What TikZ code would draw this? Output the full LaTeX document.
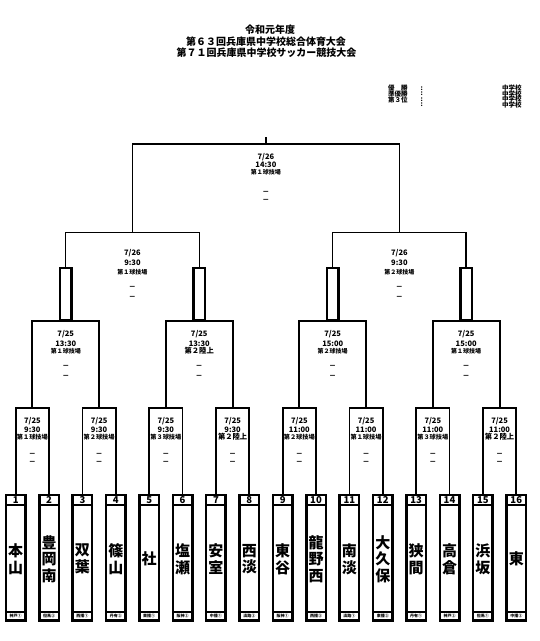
\documentclass[tikz,border=0pt]{standalone}
\usepackage{fontspec}
\setmainfont{Noto Sans CJK JP}
\usetikzlibrary{calc}
\tikzset{
  team/.style={draw, line width=2.5pt, minimum width=19.5pt, minimum height=125.3pt, inner sep=0pt, outer sep=0pt},
  tname/.style={font=\fontsize{15}{16.7}\selectfont\bfseries, align=center, inner sep=0pt},
  numlab/.style={font=\fontsize{9.5}{9.5}\selectfont\bfseries, inner sep=0pt},
  reglab/.style={font=\fontsize{4}{4}\selectfont\bfseries, inner sep=0pt},
  divider/.style={line width=1.6pt},
  r1line/.style={line width=1.8pt},
  qfline/.style={line width=2pt},
  winrect/.style={draw, line width=2.7pt, minimum width=11.7pt, minimum height=52.7pt, inner sep=0pt, outer sep=0pt},
  bracket/.style={line width=1.4pt},
  txt/.style={font=\fontsize{7.5}{7.5}\selectfont\bfseries, inner sep=0pt},
  dashmark/.style={font=\fontsize{7}{7}\selectfont\bfseries, inner sep=0pt},
  title/.style={font=\fontsize{10}{10}\selectfont\bfseries, inner sep=0pt},
  result/.style={font=\fontsize{6.5}{6.5}\selectfont\bfseries, inner sep=0pt}
}
\begin{document}
\begin{tikzpicture}[x=1pt,y=-1pt]
\fill[white] (0,0) rectangle (540,641);
\useasboundingbox (0,0) rectangle (540,641);

% title
\node[title] (t0) at (270,30) {令和元年度};
\node[title] (ta) at (266,41.7) {第６３回兵庫県中学校総合体育大会};
\node[title] (tb) at (266.5,52.7) {第７１回兵庫県中学校サッカー競技大会};

% results
\node[result, anchor=west] (p1) at (388,88.3) {優　勝};
\node[result, anchor=west] (p2) at (388,94) {準優勝};
\node[result, anchor=west] (p3) at (388,99.5) {第３位};
\foreach \yy/\nn in {88.3/1,94/2,99.5/3,105.1/4}{
  \node[result] (c\nn) at (421.7,\yy) {:};
  \node[result, anchor=east] (s\nn) at (521.7,\yy) {中学校};
}

% teams
\foreach \i/\nm/\rg in {1/{本\\山}/神戸①, 2/{豊\\岡\\南}/但馬②, 3/{双\\葉}/西播①, 4/{篠\\山}/丹有②,
  5/{社}/東播①, 6/{塩\\瀬}/阪神②, 7/{安\\室}/中播①, 8/{西\\淡}/淡路②,
  9/{東\\谷}/阪神①, 10/{龍\\野\\西}/西播②, 11/{南\\淡}/淡路①, 12/{大\\久\\保}/東播②,
  13/{狭\\間}/丹有①, 14/{高\\倉}/神戸②, 15/{浜\\坂}/但馬①, 16/{東}/中播②}{
  \pgfmathsetmacro\xx{15.7+(\i-1)*33.37}
  \node[team] (t\i) at (\xx,557.85) {};
  \draw[divider] ([yshift=-10pt]t\i.north west) -- ([yshift=-10pt]t\i.north east);
  \draw[divider] ([yshift=8.5pt]t\i.south west) -- ([yshift=8.5pt]t\i.south east);
  \node[numlab] (n\i) at ([yshift=-5.1pt]t\i.north) {\i};
  \node[tname] (m\i) at ([yshift=-1.2pt]t\i.center) {\nm};
  \node[reglab] (g\i) at ([yshift=4.4pt]t\i.south) {\rg};
}

% round 1
\foreach \k in {1,...,8}{
  \pgfmathsetmacro\xx{15.7+(2*\k-1.5)*33.37}
  \pgfmathtruncatemacro\a{2*\k-1}
  \pgfmathtruncatemacro\b{2*\k}
  \coordinate (r\k) at (\xx,407.7);
  \draw[r1line] (t\a.north) |- (r\k) -| (t\b.north);
}
% quarter finals
\foreach \q in {1,...,4}{
  \pgfmathsetmacro\xx{15.7+(4*\q-2.5)*33.37}
  \pgfmathtruncatemacro\a{2*\q-1}
  \pgfmathtruncatemacro\b{2*\q}
  \coordinate (q\q) at (\xx,320.7);
  \draw[qfline] (r\a) |- (q\q) -| (r\b);
  \node[winrect] (w\q) at (\xx,294.35) {};
}
% semi finals
\coordinate (s1) at (132.45,232.7);
\coordinate (s2) at (399.4,232.7);
\draw[bracket] (w1.north) |- (s1) -| (w2.north);
\draw[bracket] (w3.north) |- (s2) -| (w4.north);
% final
\coordinate (f) at (265.9,144);
\coordinate (ftop) at (265.9,136.5);
\draw[bracket] (s1) |- (f) -| (s2);
\draw[line width=2.5pt] (f) -- (ftop);

% match texts round 1
\foreach \k/\tm/\vn/\fs in {1/9:30/第１球技場/6.2, 2/9:30/第２球技場/6.2, 3/9:30/第３球技場/6.2, 4/9:30/第２陸上/7.3,
  5/11:00/第２球技場/6.2, 6/11:00/第１球技場/6.2, 7/11:00/第３球技場/6.2, 8/11:00/第２陸上/7.3}{
  \node[txt] (ra\k) at ($(r\k)+(0,13)$) {7/25};
  \node[txt] (rb\k) at ($(r\k)+(0,21.6)$) {\tm};
  \node[txt, font=\fontsize{\fs}{\fs}\selectfont\bfseries] (rc\k) at ($(r\k)+(0,29)$) {\vn};
  \node[dashmark] (rd\k) at ($(r\k)+(0,47.3)$) {－};
  \node[dashmark] (re\k) at ($(r\k)+(0,55.6)$) {－};
}
% quarter final texts
\foreach \q/\tm/\vn/\fs in {1/13:30/第１球技場/6, 2/13:30/第２陸上/7.3, 3/15:00/第２球技場/6, 4/15:00/第１球技場/6}{
  \node[txt] (qa\q) at ($(q\q)+(0,13.3)$) {7/25};
  \node[txt] (qb\q) at ($(q\q)+(0,22.6)$) {\tm};
  \node[txt, font=\fontsize{\fs}{\fs}\selectfont\bfseries] (qc\q) at ($(q\q)+(0,30.3)$) {\vn};
  \node[dashmark] (qd\q) at ($(q\q)+(0,46.6)$) {－};
  \node[dashmark] (qe\q) at ($(q\q)+(0,56)$) {－};
}
% semi final texts
\foreach \s/\vn in {1/第１球技場, 2/第２球技場}{
  \node[txt] (sa\s) at ($(s\s)+(0,20.6)$) {7/26};
  \node[txt] (sb\s) at ($(s\s)+(0,30)$) {9:30};
  \node[txt, font=\fontsize{6}{6}\selectfont\bfseries] (sc\s) at ($(s\s)+(0,39)$) {\vn};
  \node[dashmark] (sd\s) at ($(s\s)+(0,55.6)$) {－};
  \node[dashmark] (se\s) at ($(s\s)+(0,65)$) {－};
}
% final texts
\node[txt] (fa) at ($(f)+(0,13.3)$) {7/26};
\node[txt] (fb) at ($(f)+(0,20.6)$) {14:30};
\node[txt, font=\fontsize{6}{6}\selectfont\bfseries] (fc) at ($(f)+(0,28)$) {第１球技場};
\node[dashmark] (fd) at ($(f)+(0,49.3)$) {－};
\node[dashmark] (fe) at ($(f)+(0,57.3)$) {－};
\end{tikzpicture}
\end{document}
